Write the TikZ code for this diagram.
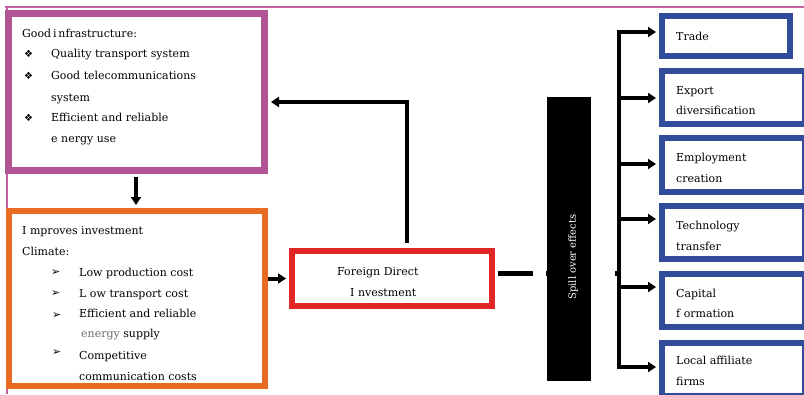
\documentclass[tikz,border=0pt]{standalone}
\usepackage{fontspec}
\setmainfont{DejaVu Serif}
\newfontfamily\symfont{DejaVu Sans}
\usetikzlibrary{arrows.meta}
\definecolor{cpurple}{RGB}{176,84,148}
\definecolor{cframe}{RGB}{196,96,160}
\definecolor{corange}{RGB}{232,106,35}
\definecolor{cred}{RGB}{226,38,38}
\definecolor{cblue}{RGB}{50,75,155}
\definecolor{cgrey}{RGB}{110,110,110}
\begin{document}
\begin{tikzpicture}[x=1pt,y=-1pt,
  box/.style={draw, rectangle, inner sep=0pt, fill=white},
  bluebox/.style={box, draw=cblue, line width=6pt, minimum width=143pt, minimum height=53pt},
  tx/.style={anchor=west, inner sep=0pt, text height=8pt, text depth=2.5pt, yshift=-1.5pt, font=\fontsize{11}{13}\selectfont},
  bul/.style={anchor=west, inner sep=0pt, yshift=-1pt, font=\symfont\fontsize{10}{12}\selectfont},
  arrbul/.style={anchor=west, inner sep=0pt, yshift=-1pt, font=\symfont\fontsize{11}{13}\selectfont},
  conn/.style={line width=4pt, black},
  arr/.style={conn, -{Triangle[length=8pt,width=10pt]}}
]
\useasboundingbox (0,0) rectangle (804,394);
% thin frame
\draw[cframe, line width=1.5pt] (804,7) -- (5,7);
\draw[cframe, line width=1.5pt] (7,7) -- (7,394);

% boxes
\node[box, draw=cpurple, line width=7pt, minimum width=256pt, minimum height=157pt] (infra) at (136,91.5) {};
\node[box, draw=corange, line width=6pt, minimum width=255.5pt, minimum height=175pt] (clim) at (136.75,298.5) {};
\node[box, draw=cred, line width=6pt, minimum width=200pt, minimum height=55pt] (fdi) at (392,278.5) {};
\node[box, draw=cblue, line width=6pt, minimum width=128pt, minimum height=40pt] (trade) at (726,36) {};
\node[bluebox] (export) at (733.5,97.5) {};
\node[bluebox, minimum height=54pt] (employ) at (733.5,165) {};
\node[bluebox] (tech) at (733.5,232.5) {};
\node[bluebox] (capital) at (733.5,300.5) {};
\node[bluebox] (local) at (733.5,369.5) {};

% purple box text
\node[tx] (p0) at (22,33) {Good\,i\,nfrastructure:};
\node[bul] (pb1) at (24,53) {❖};
\node[tx] (p1) at (51,53) {Quality transport system};
\node[bul] (pb2) at (24,75) {❖};
\node[tx] (p2) at (51,75) {Good telecommunications};
\node[tx] (p3) at (51,97) {system};
\node[bul] (pb3) at (24,117) {❖};
\node[tx] (p4) at (51,117) {Efficient and reliable};
\node[tx] (p5) at (51,138) {e nergy use};

% orange box text
\node[tx] (o0) at (22,230) {I mproves investment};
\node[tx] (o1) at (22,251) {Climate:};
\node[arrbul] (ob1) at (51,272) {➢};
\node[tx] (o2) at (79,272) {Low production cost};
\node[arrbul] (ob2) at (51,293) {➢};
\node[tx] (o3) at (79,293) {L ow transport cost};
\node[arrbul] (ob3) at (52,315) {➢};
\node[tx] (o4) at (79,313) {Efficient and reliable};
\node[tx] (o5) at (81,333) {{\color{cgrey}energy} supply};
\node[arrbul] (ob4) at (52,352) {➢};
\node[tx] (o6) at (79,355) {Competitive};
\node[tx] (o7) at (79,376) {communication costs};

% FDI text
\node[tx] (f1) at (337,271) {Foreign Direct};
\node[tx] (f2) at (350,292) {I nvestment};

% blue box texts
\node[tx] (b1t) at (676,36) {Trade};
\node[tx] (b2t) at (676,90) {Export};
\node[tx] (b2u) at (676,110) {diversification};
\node[tx] (b3t) at (676,157) {Employment};
\node[tx] (b3u) at (676,178) {creation};
\node[tx] (b4t) at (676,225) {Technology};
\node[tx] (b4u) at (676,246) {transfer};
\node[tx] (b5t) at (676,293) {Capital};
\node[tx] (b5u) at (676,313) {f ormation};
\node[tx] (b6t) at (676,360) {Local affiliate};
\node[tx] (b6u) at (676,381) {firms};

% coordinates
\coordinate (up) at (407,102);
\coordinate (bmid) at (619,273);
\coordinate (c1) at (619,32);
\coordinate (c2) at (619,98);
\coordinate (c3) at (619,164);
\coordinate (c4) at (619,219);
\coordinate (c5) at (619,287);
\coordinate (c6) at (619,367);

% connectors
\draw[arr, shorten <=5pt, shorten >=3.5pt] (fdi.north -| up) -- (up) -- (up -| infra.east);
\draw[arr, shorten <=3.5pt, shorten >=3pt] (infra.south) -- (infra.south |- clim.north);
\draw[arr, shorten <=0.5pt, shorten >=3pt] (fdi.west -| clim.east) -- (fdi.west);
\draw[line width=5pt, shorten <=3pt, dash pattern=on 35pt off 13pt on 40pt off 29pt on 10pt] (bmid -| fdi.east) -- (bmid);

% spill over box
\node[fill=black, inner sep=0pt, minimum width=44pt, minimum height=284pt] (spill) at (569,239) {};
\node[rotate=90, text=white, inner sep=0pt, font=\fontsize{10}{12}\selectfont] (spilltxt) at (573,257) {Spill over effects};

% bus
\draw[conn, line cap=rect] (c1) -- (c6);
\draw[arr, shorten >=3pt] (c1) -- (c1 -| trade.west);
\draw[arr, shorten >=3pt] (c2) -- (c2 -| export.west);
\draw[arr, shorten >=3pt] (c3) -- (c3 -| employ.west);
\draw[arr, shorten >=3pt] (c4) -- (c4 -| tech.west);
\draw[arr, shorten >=3pt] (c5) -- (c5 -| capital.west);
\draw[arr, shorten >=3pt] (c6) -- (c6 -| local.west);
\end{tikzpicture}
\end{document}
